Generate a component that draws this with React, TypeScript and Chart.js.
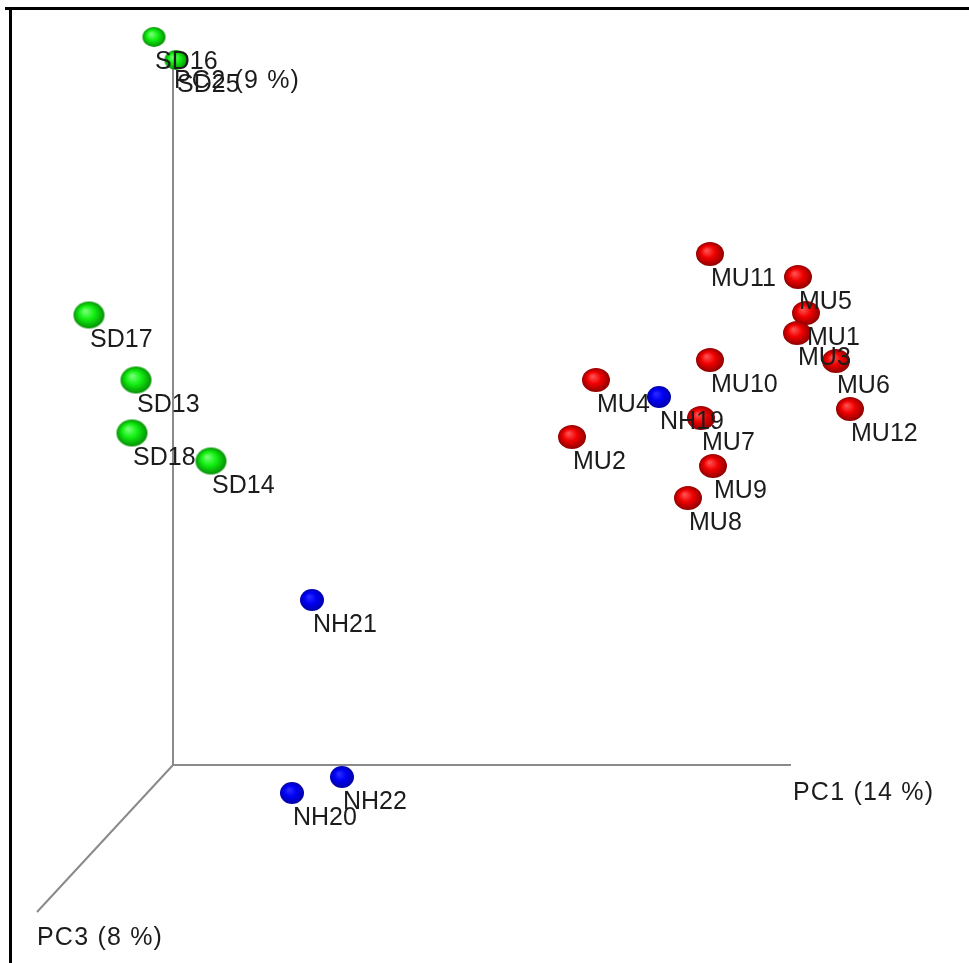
import React, { useEffect, useRef } from "react";
import { Chart, registerables } from "chart.js";

Chart.register(...registerables);

// Projected PCoA coordinates (screen-plane projection of PC1/PC2/PC3)
const sdNames = ["SD16", "SD25", "SD17", "SD13", "SD18", "SD14"];
const sdX = [-19, 3, -84, -37, -41, 38];
const sdY = [728, 705, 450, 385, 332, 304];

const nhNames = ["NH21", "NH20", "NH22", "NH19"];
const nhX = [139, 119, 169, 486];
const nhY = [165, -28, -12, 368];

const muNames = ["MU11", "MU5", "MU1", "MU3", "MU6", "MU10", "MU12", "MU4", "MU2", "MU7", "MU9", "MU8"];
const muX = [537, 625, 633, 624, 663, 537, 677, 423, 399, 528, 540, 515];
const muY = [511, 488, 452, 432, 404, 405, 356, 385, 328, 347, 299, 267];

// axes of the 3D frame (origin -> end)
const axisNames = ["PC1 (14 %)", "PC2 (9 %)", "PC3 (8 %)"];
const axisEndX = [618, 0, -136];
const axisEndY = [0, 703, -147];
const axisLabelX = [620, 1, -136];
const axisLabelY = [-28, 684, -173];

const W = 969;
const H = 963;
const ORIGIN_PX = 173;
const ORIGIN_PY = 765;

function makeSphere(w: number, h: number, light: string, base: string, dark: string) {
  const c = document.createElement("canvas");
  c.width = w + 2;
  c.height = h + 2;
  const ctx = c.getContext("2d")!;
  ctx.save();
  ctx.translate(c.width / 2, c.height / 2);
  ctx.scale(w / h, 1);
  const r = h / 2;
  const g = ctx.createRadialGradient(-r * 0.25, -r * 0.3, r * 0.05, 0, 0, r * 1.05);
  g.addColorStop(0, light);
  g.addColorStop(0.45, base);
  g.addColorStop(1, dark);
  ctx.fillStyle = g;
  ctx.beginPath();
  ctx.arc(0, 0, r, 0, Math.PI * 2);
  ctx.fill();
  ctx.restore();
  return c;
}

function pts(xs: number[], ys: number[]) {
  return xs.map((x, i) => ({ x, y: ys[i] }));
}

export default function App() {
  const ref = useRef<HTMLCanvasElement>(null);

  useEffect(() => {
    if (!ref.current) return;
    const green = makeSphere(31, 27, "#77ff77", "#11f011", "#058805");
    const greenSmall = makeSphere(23, 20, "#77ff77", "#11f011", "#058805");
    const red = makeSphere(28, 24, "#ff5050", "#f00000", "#880000");
    const blue = makeSphere(24, 22, "#2a2aff", "#0000f5", "#0000a0");

    const labelSets = [
      { names: sdNames, xs: sdX, ys: sdY },
      { names: nhNames, xs: nhX, ys: nhY },
      { names: muNames, xs: muX, ys: muY },
    ];

    const decor = {
      id: "decor",
      beforeDraw(chart: any) {
        const ctx = chart.ctx;
        ctx.save();
        ctx.fillStyle = "#ffffff";
        ctx.fillRect(0, 0, chart.width, chart.height);
        ctx.fillStyle = "#000000";
        ctx.fillRect(5, 7, W, 3);
        ctx.fillRect(9, 7, 3, H);
        ctx.restore();
      },
      afterDatasetsDraw(chart: any) {
        const ctx = chart.ctx;
        const xs = chart.scales.x;
        const ys = chart.scales.y;
        ctx.save();
        ctx.fillStyle = "#1c1c1c";
        ctx.textBaseline = "middle";
        ctx.textAlign = "left";
        ctx.font = "25px 'Liberation Sans', Arial, sans-serif";
        labelSets.forEach((s) => {
          s.names.forEach((n, i) => {
            const px = xs.getPixelForValue(s.xs[i]);
            const py = ys.getPixelForValue(s.ys[i]);
            ctx.fillText(n, px + 1, py + 25);
          });
        });
        ctx.font = "25px 'Liberation Sans', Arial, sans-serif";
        (ctx as any).letterSpacing = "1.2px";
        axisNames.forEach((n, i) => {
          ctx.fillText(n, xs.getPixelForValue(axisLabelX[i]), ys.getPixelForValue(axisLabelY[i]));
        });
        ctx.restore();
      },
    };

    const axisDatasets = axisNames.map((n, i) => ({
      type: "line" as const,
      label: n,
      data: [
        { x: 0, y: 0 },
        { x: axisEndX[i], y: axisEndY[i] },
      ],
      borderColor: "#8a8a8a",
      borderWidth: 2,
      pointRadius: 0,
      showLine: true,
      clip: false as any,
      order: 10,
    }));

    const sdStyles = sdNames.map((n) => (n === "SD16" || n === "SD25" ? greenSmall : green));

    const chart = new Chart(ref.current, {
      type: "scatter",
      data: {
        datasets: [
          ...axisDatasets,
          {
            label: "SD",
            data: pts(sdX, sdY),
            pointStyle: sdStyles as any,
            pointRadius: 12,
            clip: false as any,
            order: 1,
          },
          {
            label: "NH",
            data: pts(nhX, nhY),
            pointStyle: blue as any,
            pointRadius: 11,
            clip: false as any,
            order: 1,
          },
          {
            label: "MU",
            data: pts(muX, muY),
            pointStyle: red as any,
            pointRadius: 12,
            clip: false as any,
            order: 1,
          },
        ] as any,
      },
      options: {
        animation: false,
        responsive: true,
        maintainAspectRatio: false,
        layout: { padding: 0, autoPadding: false } as any,
        plugins: {
          legend: { display: false },
          tooltip: { enabled: false },
        },
        scales: {
          x: {
            type: "linear",
            display: false,
            min: -ORIGIN_PX,
            max: W - ORIGIN_PX,
          },
          y: {
            type: "linear",
            display: false,
            min: ORIGIN_PY - H,
            max: ORIGIN_PY,
          },
        },
      },
      plugins: [decor],
    });

    return () => chart.destroy();
  }, []);

  return (
    <div style={{ position: "fixed", left: 0, top: 0, width: W, height: H, background: "#fff" }}>
      <canvas ref={ref} />
    </div>
  );
}
